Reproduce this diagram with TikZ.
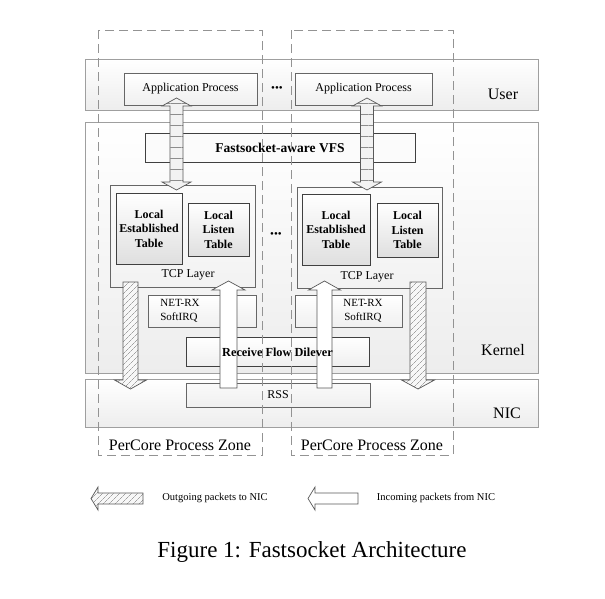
\documentclass[tikz,border=0pt]{standalone}
\usepackage{fontspec}
\setmainfont{Liberation Serif}
\usetikzlibrary{patterns.meta}

\tikzset{
  band/.style={draw=gray!75, line width=0.8pt, top color=white, bottom color=gray!14, minimum width=453pt},
  box/.style={draw=gray!80!black, line width=0.8pt, top color=white, bottom color=gray!12},
  tbl/.style={draw=black!75, line width=0.9pt, top color=white, bottom color=gray!25, font=\fontsize{12}{14.5}\selectfont\bfseries, align=center},
  zone/.style={draw=gray!85, line width=0.8pt, dash pattern=on 9pt off 5pt},
  lbl/.style={font=\fontsize{16}{18}\selectfont},
  txt/.style={font=\fontsize{12}{14}\selectfont, align=center},
  dots/.style={font=\fontsize{11}{12}\selectfont, inner sep=0pt},
  outarrow/.style={draw=gray!70!black, line width=0.7pt, preaction={fill=gray!6}, pattern={Lines[angle=45,distance=4pt,line width=0.45pt]}, pattern color=gray!90!black},
  inarrow/.style={draw=gray!70!black, line width=0.7pt, fill=white},
  bothway/.style={draw=gray!70!black, line width=0.7pt, preaction={fill=gray!10}, pattern={Lines[angle=0,distance=11pt,line width=0.5pt]}, pattern color=gray!90},
}

% vertical block arrow: style, x, y tail, y head base, y tip, half shaft, half head
\newcommand{\varrow}[7]{\draw[#1] ({#2-#6},#3) -- ({#2-#6},#4) -- ({#2-#7},#4) -- (#2,#5) -- ({#2+#7},#4) -- ({#2+#6},#4) -- ({#2+#6},#3) -- cycle;}
% double vertical block arrow: style, x, top tip, top base, bottom base, bottom tip, half shaft, half head
\newcommand{\dvarrow}[8]{\draw[#1] (#2,#3) -- ({#2+#8},#4) -- ({#2+#7},#4) -- ({#2+#7},#5) -- ({#2+#8},#5) -- (#2,#6) -- ({#2-#8},#5) -- ({#2-#7},#5) -- ({#2-#7},#4) -- ({#2-#8},#4) -- cycle;}
% left block arrow: style, y, x tip, x head base, x tail, half shaft, half head
\newcommand{\larrow}[7]{\draw[#1] (#3,#2) -- (#4,{#2-#7}) -- (#4,{#2-#6}) -- (#5,{#2-#6}) -- (#5,{#2+#6}) -- (#4,{#2+#6}) -- (#4,{#2+#7}) -- cycle;}

\begin{document}
\begin{tikzpicture}[x=1pt, y=-1pt]
  \useasboundingbox[fill=white] (0,0) rectangle (605,598);

  % layers
  \node[band, minimum height=51pt] (user) at (311.5,84.5) {};
  \node[band, minimum height=251pt] (kernel) at (311.5,247.5) {};
  \node[band, minimum height=48pt] (nic) at (311.5,403) {};
  \node[lbl] (userlbl) at (503,94) {User};
  \node[lbl] (kernellbl) at (503,350) {Kernel};
  \node[lbl] (niclbl) at (507,413) {NIC};

  % user space
  \node[box, minimum width=133pt, minimum height=32pt, txt] (app1) at (190.5,89) {Application Process};
  \node[box, minimum width=137pt, minimum height=32pt, txt] (app2) at (363.5,89) {Application Process};
  \node[dots] (appdots) at (277,89) {\textbullet\textbullet\textbullet};

  % kernel
  \node[draw=black!75, line width=0.9pt, fill=gray!3, minimum width=270pt, minimum height=29pt,
        font=\fontsize{13.5}{15}\selectfont\bfseries] (vfs) at (280,147.5) {Fastsocket-aware VFS};

  \node[box, top color=gray!3, bottom color=gray!10, minimum width=145pt, minimum height=102pt] (tcp1) at (182.5,236) {};
  \node[box, top color=gray!3, bottom color=gray!10, minimum width=145pt, minimum height=101pt] (tcp2) at (369.5,237.5) {};
  \node[txt] (tcp1lbl) at (188,275) {TCP Layer};
  \node[txt] (tcp2lbl) at (367,277) {TCP Layer};
  \node[tbl, minimum width=66pt, minimum height=71pt, inner sep=1pt] (est1) at (149,228.5) {Local\\Established\\Table};
  \node[tbl, minimum width=61pt, minimum height=53pt, inner sep=1pt] (lis1) at (218.5,229.5) {Local\\Listen\\Table};
  \node[tbl, minimum width=68pt, minimum height=71pt, inner sep=1pt] (est2) at (336,229.5) {Local\\Established\\Table};
  \node[tbl, minimum width=61pt, minimum height=54pt, inner sep=1pt] (lis2) at (407.5,230) {Local\\Listen\\Table};
  \node[dots] (tcpdots) at (276,235) {\textbullet\textbullet\textbullet};

  \node[box, minimum width=108pt, minimum height=32pt] (net1) at (202,311) {};
  \node[box, minimum width=107pt, minimum height=32pt] (net2) at (348.5,311) {};
  \node[txt, font=\fontsize{11}{14}\selectfont, align=left] (net1lbl) at (180,311) {NET-RX\\SoftIRQ};
  \node[txt, font=\fontsize{11}{14}\selectfont] (net2lbl) at (363,311) {NET-RX\\SoftIRQ};

  \node[draw=black!75, line width=0.9pt, top color=white, bottom color=gray!12, minimum width=183pt, minimum height=29pt] (rfd) at (277.5,351.5) {};

  % nic
  \node[box, top color=gray!4, bottom color=gray!12, minimum width=184pt, minimum height=24pt, txt] (rss) at (278,395) {RSS};

  % packet paths
  \dvarrow{bothway}{176.5}{98}{106}{182}{190}{6.5}{14.5}
  \dvarrow{bothway}{367}{98}{106}{182}{190}{6.5}{14.5}
  \varrow{inarrow}{228.5}{388}{290}{281}{8.5}{16.5}
  \varrow{inarrow}{324.5}{388}{290}{281}{7.5}{16}
  \varrow{outarrow}{130.5}{282}{380}{389}{7.5}{16}
  \varrow{outarrow}{418}{282}{380}{389}{8}{16.5}

  \node[font=\fontsize{12.3}{14}\selectfont\bfseries] (rfdlbl) at (277.5,352) {Receive Flow Dilever};

  % per core zones
  \draw[zone] (98,30) rectangle (262,455);
  \draw[zone] (291,30) rectangle (453,455);
  \node[lbl] (zone1lbl) at (180,445) {PerCore Process Zone};
  \node[lbl] (zone2lbl) at (372,445) {PerCore Process Zone};

  % legend
  \larrow{outarrow}{498.5}{91}{98}{143}{5.5}{11.5}
  \node[font=\fontsize{10.5}{12}\selectfont] (outlbl) at (215,498) {Outgoing packets to NIC};
  \larrow{inarrow}{498.5}{308}{315}{358}{5.5}{11.5}
  \node[font=\fontsize{10.5}{12}\selectfont] (inlbl) at (436,498) {Incoming packets from NIC};

  \node[font=\fontsize{23}{26}\selectfont] (caption) at (312,552) {Figure 1: Fastsocket Architecture};
\end{tikzpicture}
\end{document}
